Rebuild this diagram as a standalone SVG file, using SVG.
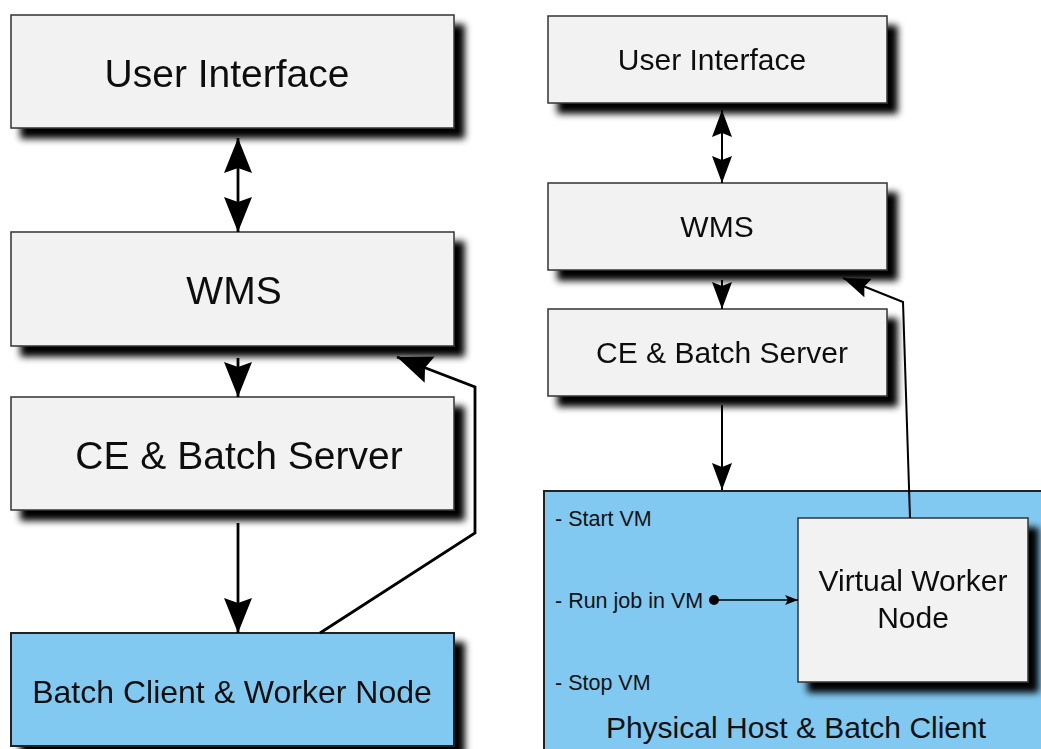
<svg xmlns="http://www.w3.org/2000/svg" width="1041" height="749" viewBox="0 0 1041 749">
  <defs>
    <filter id="shadow" x="-10%" y="-10%" width="130%" height="150%">
      <feGaussianBlur in="SourceAlpha" stdDeviation="3.5"/>
      <feOffset dx="10" dy="10" result="b"/>
      <feFlood flood-color="#000" flood-opacity="1"/>
      <feComposite in2="b" operator="in" result="s"/>
      <feMerge><feMergeNode in="s"/><feMergeNode in="SourceGraphic"/></feMerge>
    </filter>
    <marker id="headL" markerUnits="userSpaceOnUse" markerWidth="36" markerHeight="30" refX="35" refY="14" orient="auto-start-reverse" viewBox="0 0 36 28">
      <path d="M0,0 L35,14 L0,28 L5,14 Z" fill="#000"/>
    </marker>
    <marker id="headR" markerUnits="userSpaceOnUse" markerWidth="28" markerHeight="22" refX="27" refY="10" orient="auto-start-reverse" viewBox="0 0 28 20">
      <path d="M0,0 L27,10 L0,20 L4,10 Z" fill="#000"/>
    </marker>
    <marker id="headS" markerUnits="userSpaceOnUse" markerWidth="14" markerHeight="12" refX="13" refY="5" orient="auto" viewBox="0 0 14 10">
      <path d="M0,0 L13,5 L0,10 L3,5 Z" fill="#000"/>
    </marker>
  </defs>
  <style>
    .box { fill: #f2f2f2; stroke: #333; stroke-width: 1.5; }
    .blue { fill: #82c9f1; stroke: #222; stroke-width: 2; }
    .t { font-family: "Liberation Sans", Arial, sans-serif; fill: #111; text-anchor: middle; }
    .s { font-family: "Liberation Sans", Arial, sans-serif; fill: #111; font-size: 21.5px; }
    .cl { fill: none; stroke: #000; stroke-width: 2.8; }
    .cr { fill: none; stroke: #000; stroke-width: 2; }
  </style>

  <!-- Left column -->
  <g id="l-ui" filter="url(#shadow)">
    <rect class="box" x="11" y="15" width="443" height="113"/>
    <text class="t" x="227" y="87" font-size="39">User Interface</text>
  </g>
  <g id="l-wms" filter="url(#shadow)">
    <rect class="box" x="11" y="232" width="443" height="114"/>
    <text class="t" x="234" y="304" font-size="39">WMS</text>
  </g>
  <g id="l-ce" filter="url(#shadow)">
    <rect class="box" x="11" y="397" width="443" height="113"/>
    <text class="t" x="239" y="469" font-size="39">CE &amp; Batch Server</text>
  </g>
  <g id="l-batch" filter="url(#shadow)">
    <rect class="blue" x="11" y="633" width="443" height="113"/>
    <text class="t" x="232" y="703" font-size="32">Batch Client &amp; Worker Node</text>
  </g>

  <!-- Right column -->
  <g id="r-phys">
    <rect class="blue" x="544" y="491" width="520" height="280"/>
    <text class="s" x="555" y="526">- Start VM</text>
    <text class="s" x="555" y="608">- Run job in VM</text>
    <text class="s" x="555" y="690">- Stop VM</text>
    <text class="t" x="796" y="738" font-size="30">Physical Host &amp; Batch Client</text>
  </g>
  <g id="r-ui" filter="url(#shadow)">
    <rect class="box" x="548" y="16" width="339" height="87"/>
    <text class="t" x="712" y="70" font-size="30">User Interface</text>
  </g>
  <g id="r-wms" filter="url(#shadow)">
    <rect class="box" x="548" y="183" width="339" height="87"/>
    <text class="t" x="717" y="237" font-size="30">WMS</text>
  </g>
  <g id="r-ce" filter="url(#shadow)">
    <rect class="box" x="548" y="309" width="339" height="87"/>
    <text class="t" x="722" y="363" font-size="30">CE &amp; Batch Server</text>
  </g>
  <g id="r-vwn" filter="url(#shadow)">
    <rect class="box" x="798" y="518" width="230" height="164"/>
    <text class="t" x="913" y="591" font-size="30">Virtual Worker</text>
    <text class="t" x="913" y="628" font-size="30">Node</text>
  </g>

  <!-- Connectors -->
  <g id="connectors">
    <line class="cl" x1="238" y1="138" x2="238" y2="232" marker-start="url(#headL)" marker-end="url(#headL)"/>
    <line class="cl" x1="238" y1="358" x2="238" y2="397" marker-end="url(#headL)"/>
    <line class="cl" x1="238" y1="523" x2="238" y2="633" marker-end="url(#headL)"/>
    <polyline class="cl" points="320,633 475,533 475,387 397,357" marker-end="url(#headL)"/>

    <line class="cr" x1="722" y1="110" x2="722" y2="183" marker-start="url(#headR)" marker-end="url(#headR)"/>
    <line class="cr" x1="722" y1="280" x2="722" y2="309" marker-end="url(#headR)"/>
    <line class="cr" x1="722" y1="405" x2="722" y2="490" marker-end="url(#headR)"/>
    <polyline class="cr" points="910,518 903,302 843,278" marker-end="url(#headR)"/>

    <circle cx="714" cy="600" r="5" fill="#000"/>
    <line x1="714" y1="600" x2="798" y2="600" stroke="#000" stroke-width="1.5" marker-end="url(#headS)"/>
  </g>
</svg>
